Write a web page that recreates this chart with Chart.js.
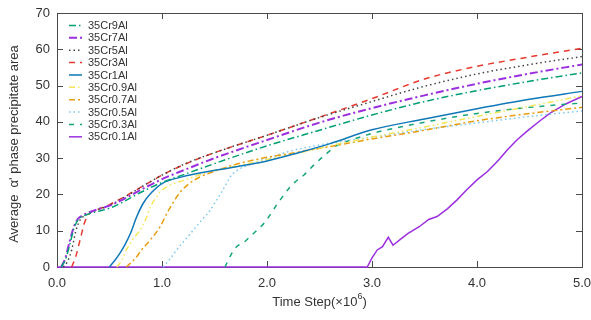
<!DOCTYPE html>
<html>
<head>
<meta charset="utf-8">
<script src="https://cdn.jsdelivr.net/npm/chart.js@4"></script>
<style>
  html, body { margin: 0; padding: 0; background: #fff; }
  #wrap { width: 591px; height: 320px; }
</style>
</head>
<body>
<div id="wrap"><canvas id="precipChart" width="591" height="320"></canvas></div>
<script>
// values (time step in 1e6, area)
const labels = ['35Cr9Al', '35Cr7Al', '35Cr5Al', '35Cr3Al', '35Cr1Al',
                '35Cr0.9Al', '35Cr0.7Al', '35Cr0.5Al', '35Cr0.3Al', '35Cr0.1Al'];

const t9Al = [0.04, 0.08, 0.12, 0.16, 0.20, 0.25, 0.3, 0.4, 0.5, 0.6, 0.8, 1.0, 1.2, 1.5, 2.0, 2.5, 3.0, 3.5, 4.0, 4.5, 5.0];
const v9Al = [0, 2, 6, 10.5, 13, 14, 14.6, 15.4, 16.2, 17.5, 20.6, 23.3, 25.4, 28.5, 33.4, 37.7, 41.9, 45.6, 48.6, 51.2, 53.5];

const t7Al = [0.04, 0.08, 0.12, 0.16, 0.20, 0.25, 0.3, 0.4, 0.5, 0.6, 0.8, 1.0, 1.2, 1.5, 2.0, 2.5, 3.0, 3.5, 4.0, 4.5, 5.0];
const v7Al = [0, 2.5, 7, 11, 13.3, 14.3, 15, 16, 16.9, 18.2, 21.3, 24.2, 26.6, 30, 35, 39.8, 43.8, 47.3, 50.5, 53.3, 55.8];

const t5Al = [0.06, 0.1, 0.14, 0.18, 0.22, 0.27, 0.32, 0.4, 0.5, 0.6, 0.8, 1.0, 1.2, 1.5, 2.0, 2.5, 3.0, 3.5, 4.0, 4.5, 5.0];
const v5Al = [0, 1.5, 4.7, 10, 13, 14.2, 15, 15.9, 17, 18.5, 22, 25.3, 28.2, 31.5, 36.3, 41.2, 45.6, 49.8, 53.2, 55.8, 58];

const t3Al = [0.14, 0.18, 0.22, 0.26, 0.3, 0.4, 0.5, 0.6, 0.8, 1.0, 1.2, 1.5, 2.0, 2.5, 3.0, 3.5, 4.0, 4.5, 5.0];
const v3Al = [0, 3, 7.5, 12, 14.5, 16, 17.2, 18.7, 22, 25.3, 28.1, 31.5, 36.3, 41.3, 46.4, 51.8, 55.3, 57.9, 60.3];

const t1Al = [0.5, 0.55, 0.6, 0.65, 0.7, 0.76, 0.82, 0.9, 1.0, 1.2, 1.4, 1.6, 1.8, 2.0, 2.3, 2.6, 3.0, 3.5, 4.0, 4.5, 5.0];
const v1Al = [0, 1.8, 3.8, 6.3, 9.3, 13.9, 17.5, 20.5, 23, 24.9, 26.1, 27.1, 28.1, 29.2, 31.5, 34, 37.8, 40.8, 43.6, 46.2, 48.4];

const t09Al = [0.57, 0.62, 0.66, 0.72, 0.79, 0.85, 0.89, 0.94, 0.98, 1.08, 1.2, 1.4, 1.6, 1.8, 2.0, 2.3, 2.6, 3.0, 3.5, 4.0, 4.5, 5.0];
const v09Al = [0, 2, 4.7, 7.5, 10.2, 13.5, 16.6, 19, 20.7, 22.6, 23.8, 25.8, 27.2, 28.4, 29.6, 31.4, 33.4, 35.8, 38.6, 41.5, 44.3, 47.2];

const t07Al = [0.66, 0.75, 0.8, 0.89, 0.98, 1.06, 1.17, 1.26, 1.36, 1.5, 1.68, 1.94, 2.2, 2.6, 3.0, 3.5, 4.0, 4.5, 5.0];
const v07Al = [0, 2.5, 4.5, 7.5, 11, 15.5, 20.5, 23, 24.8, 26.4, 28.1, 29.9, 31.2, 33.2, 35.3, 37.7, 40.3, 42.3, 44];

const t05Al = [1.01, 1.07, 1.14, 1.22, 1.30, 1.38, 1.46, 1.51, 1.56, 1.61, 1.65, 1.71, 1.78, 1.88, 2.0, 2.2, 2.4, 2.8, 3.0, 3.5, 4.0, 4.5, 5.0];
const v05Al = [0, 2, 4.7, 7.5, 10.2, 13, 15.7, 18, 20.3, 22.8, 24.9, 26.5, 27.6, 28.8, 29.9, 31.8, 33.1, 35, 35.8, 37.9, 39.7, 41.5, 43];

const t03Al = [1.6, 1.65, 1.71, 1.78, 1.84, 1.9, 1.97, 2.04, 2.1, 2.16, 2.22, 2.29, 2.35, 2.46, 2.57, 2.67, 2.8, 3.0, 3.5, 4.0, 4.5, 5.0];
const v03Al = [0, 3, 5.6, 6.8, 8.4, 10, 12, 14.8, 17.5, 19.8, 22.1, 24, 25.3, 28.5, 31.3, 33.6, 35, 36.8, 39.9, 42.3, 44, 45.2];

const t01Al = [0, 2.955, 3.0, 3.05, 3.10, 3.155, 3.20, 3.27, 3.34, 3.45, 3.54, 3.62, 3.72, 3.81, 3.9, 4.0, 4.10, 4.2, 4.29, 4.38, 4.48, 4.6, 4.7, 4.85, 5.0];
const v01Al = [0, 0, 2.5, 4.7, 5.6, 8.2, 6.0, 7.6, 9.2, 11.1, 13.1, 13.9, 16.1, 18.5, 21.2, 24, 26.3, 29.3, 32.3, 35, 37.5, 40.3, 42.5, 45, 47];

const xTicks = [0, 1, 2, 3, 4, 5];
const yTicks = [0, 10, 20, 30, 40, 50, 60, 70];

const seriesT = [t9Al, t7Al, t5Al, t3Al, t1Al, t09Al, t07Al, t05Al, t03Al, t01Al];
const seriesV = [v9Al, v7Al, v5Al, v3Al, v1Al, v09Al, v07Al, v05Al, v03Al, v01Al];

const colors = ['#009e73', '#9b2fe0', '#444444', '#e8392f', '#0f78b8',
                '#f4e65a', '#e89d10', '#7cc8f0', '#14a57c', '#9b2fe0'];
const dashes = [[7, 3, 1.5, 3], [8, 3, 2, 3], [1.5, 3], [6, 5], [],
                [6, 3, 1.5, 3, 1.5, 3], [6, 3, 2, 3], [1.5, 3], [5, 6], []];
const widths = [1.5, 2, 1.5, 1.5, 1.5, 1.5, 1.5, 1.5, 1.5, 1.5];

function points(ts, vs) {
  return ts.map((t, i) => ({ x: t, y: vs[i] }));
}

const datasets = labels.map((name, i) => ({
  label: name,
  data: points(seriesT[i], seriesV[i]),
  borderColor: colors[i],
  borderDash: dashes[i],
  borderWidth: widths[i],
  pointRadius: 0,
  fill: false,
  cubicInterpolationMode: i === 9 ? 'default' : 'monotone',
  tension: 0,
  clip: 4
}));

const FONT = '"Liberation Sans", Arial, sans-serif';
const TEXT = '#333333';
const AXIS = '#4a4a4a';

// box round the plot with inward ticks on all four sides
const framePlugin = {
  id: 'frame',
  beforeDatasetsDraw(chart) {
    const { ctx, chartArea: a, scales } = chart;
    ctx.save();
    ctx.strokeStyle = AXIS;
    ctx.lineWidth = 1;
    ctx.strokeRect(a.left + 0.5, a.top + 0.5, a.right - a.left, a.bottom - a.top);
    ctx.beginPath();
    xTicks.forEach(v => {
      const px = Math.round(scales.x.getPixelForValue(v)) + 0.5;
      ctx.moveTo(px, a.bottom); ctx.lineTo(px, a.bottom - 6);
      ctx.moveTo(px, a.top); ctx.lineTo(px, a.top + 6);
    });
    yTicks.forEach(v => {
      const py = Math.round(scales.y.getPixelForValue(v)) + 0.5;
      ctx.moveTo(a.left, py); ctx.lineTo(a.left + 6, py);
      ctx.moveTo(a.right, py); ctx.lineTo(a.right - 6, py);
    });
    ctx.stroke();
    ctx.restore();
  },
  afterDraw(chart) {
    const { ctx, chartArea: a } = chart;
    ctx.save();
    ctx.fillStyle = TEXT;
    ctx.textBaseline = 'middle';
    // x title with superscript 6
    const base = 'Time Step(\u00d710';
    ctx.font = '13px ' + FONT;
    const w1 = ctx.measureText(base).width;
    ctx.font = '9px ' + FONT;
    const w2 = ctx.measureText('6').width;
    ctx.font = '13px ' + FONT;
    const w3 = ctx.measureText(')').width;
    const cx = (a.left + a.right) / 2;
    const x0 = cx - (w1 + w2 + w3) / 2;
    ctx.textAlign = 'left';
    ctx.fillText(base, x0, 302);
    ctx.font = '9px ' + FONT;
    ctx.fillText('6', x0 + w1, 297);
    ctx.font = '13px ' + FONT;
    ctx.fillText(')', x0 + w1 + w2, 302);
    // y title
    ctx.translate(14, (a.top + a.bottom) / 2 + 4);
    ctx.rotate(-Math.PI / 2);
    ctx.textAlign = 'center';
    ctx.fillText("Average  \u03b1' phase precipitate area", 0, 0);
    ctx.restore();

    // legend, top left inside the plot
    ctx.save();
    ctx.font = '11px ' + FONT;
    ctx.textBaseline = 'middle';
    ctx.textAlign = 'left';
    chart.data.datasets.forEach((ds, i) => {
      const y = 25.5 + i * 12.37;
      ctx.strokeStyle = ds.borderColor;
      ctx.lineWidth = ds.borderWidth;
      ctx.setLineDash(ds.borderDash);
      ctx.beginPath();
      ctx.moveTo(69, y);
      ctx.lineTo(82, y);
      ctx.stroke();
      ctx.setLineDash([]);
      ctx.fillStyle = TEXT;
      ctx.fillText(ds.label, 88, y + 0.5);
    });
    ctx.restore();
  }
};

const ctx = document.getElementById('precipChart').getContext('2d');

const chart = new Chart(ctx, {
  type: 'line',
  data: { datasets: datasets },
  options: {
    animation: false,
    responsive: false,
    maintainAspectRatio: false,
    layout: { padding: { top: 13, right: 0, left: 0, bottom: 0 } },
    plugins: { legend: { display: false }, tooltip: { enabled: false } },
    scales: {
      x: {
        type: 'linear',
        min: 0,
        max: 5,
        afterBuildTicks: s => { s.ticks = xTicks.map(v => ({ value: v })); },
        afterFit: s => { s.height = 53; s.paddingRight = 9; s.paddingLeft = 0; },
        grid: { display: false, drawTicks: false },
        border: { display: false },
        ticks: {
          padding: 9,
          color: TEXT,
          font: { family: FONT, size: 13 },
          callback: v => v.toFixed(1),
          maxRotation: 0
        }
      },
      y: {
        min: 0,
        max: 70,
        afterBuildTicks: s => { s.ticks = yTicks.map(v => ({ value: v })); },
        afterFit: s => { s.width = 57; s.paddingTop = 0; s.paddingBottom = 0; },
        grid: { display: false, drawTicks: false },
        border: { display: false },
        ticks: {
          padding: 7,
          color: TEXT,
          font: { family: FONT, size: 13 }
        }
      }
    }
  },
  plugins: [framePlugin]
});
</script>
</body>
</html>
